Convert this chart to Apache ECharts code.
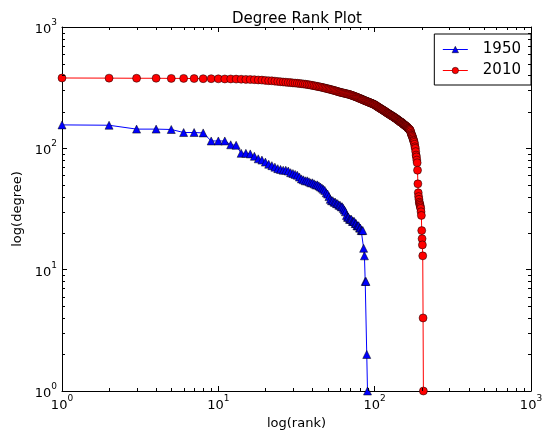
<!DOCTYPE html>
<html>
<head>
<meta charset="utf-8">
<script src="https://cdn.jsdelivr.net/npm/echarts@6/dist/echarts.min.js"></script>
<style>
html,body{margin:0;padding:0;background:#fff;}
#chart{width:547px;height:430px;}
</style>
</head>
<body>
<div id="chart"></div>
<script>
// Degree values indexed by rank (rank = position + 1)
const deg1950 = [
  156,155,144,144,143,135,135,134,115,115,
  115,107,106,91,91,90,86,82,80,77,
  74,72,70,68,67,66,66,65,63,62,
  61,60,58,56,55,54,54,53,52,52,
  51,50,50,49,48,47,46,45,43,42,
  40,38,37,37,36,36,35,35,34,34,
  33,33,32,31,30,28,27,27,26,26,
  26,25,25,25,24,24,23,23,23,22,
  22,21,21,21,15,13,8,8,2,1
];
const deg2010 = [
  380,379,378,378,377,377,376,375,375,374,
  373,373,372,371,370,369,368,366,365,363,
  361,360,358,356,354,352,351,349,348,346,
  345,344,342,341,339,338,336,334,332,330,
  328,326,324,322,320,318,316,314,312,310,
  308,306,304,302,300,298,296,294,292,290,
  289,287,286,284,283,282,280,279,278,276,
  274,272,271,269,267,265,264,262,260,258,
  257,255,253,252,250,248,247,245,244,242,
  241,240,238,237,236,234,233,232,230,229,
  227,225,223,221,219,218,216,214,213,211,
  210,208,207,205,204,202,201,199,198,196,
  195,194,192,191,190,189,187,186,185,184,
  183,182,180,179,178,177,176,175,173,172,
  171,170,169,168,166,165,165,164,163,162,
  160,159,158,157,156,155,154,153,152,151,
  150,149,147,146,145,144,143,142,140,137,
  133,130,128,126,123,120,117,115,112,108,
  103,100,94,88,85,80,76,66,51,43,
  40,38,36,35,34,33,32,30,28,21,
  18,16,13,4,1
];
const seriesNames = ['1950','2010'];
const seriesColors = ['#0000ff','#ff0000'];
const minorTickValues = [2,3,4,5,6,7,8,9,20,30,40,50,60,70,80,90,200,300,400,500,600,700,800,900];

const toPairs = arr => arr.map((d, i) => [i + 1, d]);
const font = 'DejaVu Sans';
const supLabel = v => {
  const e = Math.round(Math.log10(v));
  return '{b|10}{s|' + e + '}';
};
const labelRich = {
  b: {fontSize: 13, fontFamily: font, color: '#000', lineHeight: 18, verticalAlign: 'bottom'},
  s: {fontSize: 9, fontFamily: font, color: '#000', lineHeight: 18, verticalAlign: 'top'}
};
const logAxisBase = {
  type: 'log', logBase: 10, min: 1, max: 1000,
  splitLine: {show: false},
  axisLine: {show: true, onZero: false, lineStyle: {color: '#000', width: 1}},
  axisTick: {show: true, inside: true, length: 5, lineStyle: {color: '#000', width: 1}},
  minorTick: {show: false}
};

const minorData = [];
minorTickValues.forEach(v => { minorData.push([v, 1, 0]); minorData.push([1, v, 1]); });

const chart = echarts.init(document.getElementById('chart'), null, {renderer: 'canvas'});
chart.setOption({
  animation: false,
  backgroundColor: '#fff',
  title: {
    text: 'Degree Rank Plot',
    left: 292, top: 7, textAlign: 'center',
    textStyle: {fontFamily: font, fontSize: 15, fontWeight: 'normal', color: '#000'}
  },
  grid: {left: 62, right: 16, top: 27, bottom: 39, containLabel: false, outerBoundsMode: 'none'},
  legend: {
    data: seriesNames.map((n, i) => ({
      name: n,
      itemStyle: {color: seriesColors[i], borderColor: '#000', borderWidth: 0.5},
      lineStyle: {color: seriesColors[i], width: 1}
    })),
    orient: 'vertical', right: 16, top: 34,
    backgroundColor: '#fff', borderColor: '#000', borderWidth: 1,
    padding: [8, 10, 7, 8], itemGap: 6, itemWidth: 25, itemHeight: 8,
    textStyle: {fontFamily: font, fontSize: 15, color: '#000', padding: [0, 0, 0, 10]}
  },
  xAxis: [
    Object.assign({}, logAxisBase, {
      position: 'bottom', name: 'log(rank)', nameLocation: 'middle', nameGap: 24,
      nameTextStyle: {fontFamily: font, fontSize: 13, color: '#000'},
      axisLabel: {show: true, margin: 3, formatter: supLabel, rich: labelRich,
        showMinLabel: true, showMaxLabel: true}
    }),
    Object.assign({}, logAxisBase, {position: 'top', axisLabel: {show: false}})
  ],
  yAxis: [
    Object.assign({}, logAxisBase, {
      position: 'left', name: 'log(degree)', nameLocation: 'middle', nameGap: 29,
      nameRotate: 90,
      nameTextStyle: {fontFamily: font, fontSize: 13, color: '#000'},
      axisLabel: {show: true, margin: 5, formatter: supLabel, rich: labelRich,
        showMinLabel: true, showMaxLabel: true}
    }),
    Object.assign({}, logAxisBase, {position: 'right', axisLabel: {show: false}})
  ],
  series: [
    {
      name: seriesNames[0], type: 'line', xAxisIndex: 0, yAxisIndex: 0,
      data: toPairs(deg1950),
      symbol: 'triangle', symbolSize: 8, showAllSymbol: true,
      lineStyle: {color: seriesColors[0], width: 1},
      itemStyle: {color: seriesColors[0], borderColor: '#000', borderWidth: 0.5},
      emphasis: {disabled: true}, z: 3
    },
    {
      name: seriesNames[1], type: 'line', xAxisIndex: 0, yAxisIndex: 0,
      data: toPairs(deg2010),
      symbol: 'circle', symbolSize: 8, showAllSymbol: true,
      lineStyle: {color: seriesColors[1], width: 1},
      itemStyle: {color: seriesColors[1], borderColor: '#000', borderWidth: 0.5},
      emphasis: {disabled: true}, z: 4
    },
    {
      name: 'minorTicks', type: 'custom', xAxisIndex: 0, yAxisIndex: 0,
      silent: true, clip: false, z: 10,
      data: minorData,
      renderItem: function (params, api) {
        const cs = params.coordSys;
        const p = api.coord([api.value(0), api.value(1)]);
        const st = {stroke: '#000', lineWidth: 1};
        if (api.value(2) === 0) {
          const x = Math.round(p[0]) + 0.5;
          return {type: 'group', children: [
            {type: 'line', shape: {x1: x, y1: cs.y + cs.height, x2: x, y2: cs.y + cs.height - 3}, style: st},
            {type: 'line', shape: {x1: x, y1: cs.y, x2: x, y2: cs.y + 3}, style: st}
          ]};
        } else {
          const y = Math.round(p[1]) + 0.5;
          return {type: 'group', children: [
            {type: 'line', shape: {x1: cs.x, y1: y, x2: cs.x + 3, y2: y}, style: st},
            {type: 'line', shape: {x1: cs.x + cs.width, y1: y, x2: cs.x + cs.width - 3, y2: y}, style: st}
          ]};
        }
      }
    }
  ]
});
</script>
</body>
</html>
